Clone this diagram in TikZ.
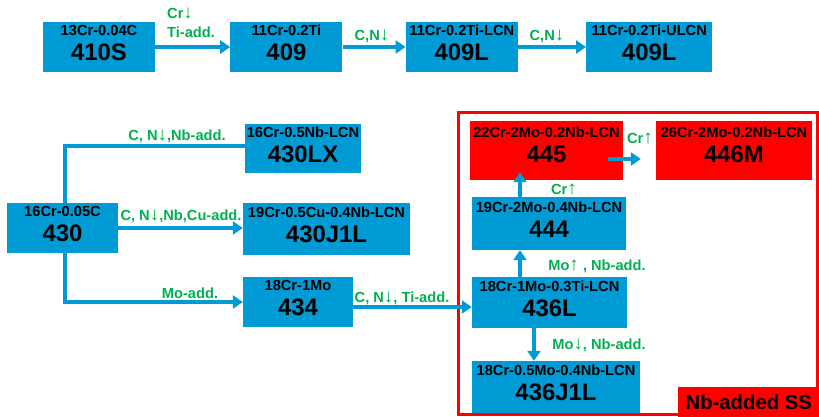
\documentclass[tikz,border=0pt]{standalone}
\usepackage{fontspec}
\setmainfont{Liberation Sans}
\usetikzlibrary{arrows.meta, positioning, calc}

\definecolor{steelblue}{RGB}{0,155,212}
\definecolor{addgreen}{RGB}{0,176,80}
\definecolor{nbred}{RGB}{255,0,0}

% composition on top, grade name below
\newcommand{\grade}[2]{{\fontsize{14.7}{15}\selectfont #1}\\#2}
% content going down / up
\newcommand{\less}{{\fontsize{19}{19}\selectfont ↓}}
\newcommand{\more}{{\fontsize{19}{19}\selectfont ↑}}

\begin{document}
\begin{tikzpicture}[
    x=1bp, y=-1bp,
    box/.style={rectangle, fill=steelblue, inner sep=0pt, minimum width=112bp, minimum height=50bp, align=center, text depth=8bp, font=\bfseries\fontsize{24}{25}\selectfont},
    nbbox/.style={box, fill=nbred},
    arrow/.style={-{Triangle[length=10bp, width=13bp]}, line width=3.5bp, draw=steelblue},
    link/.style={line width=3.5bp, draw=steelblue},
    change/.style={font=\bfseries\fontsize{14.7}{19}\selectfont, text=addgreen, inner sep=0pt, align=left},
    group/.style={draw=nbred, line width=3bp, inner sep=0pt}
]
\useasboundingbox (0,0) rectangle (819,416);

% ============ NB-ADDED GROUP ============
\node[group, minimum width=359bp, minimum height=302bp] (nbgroup) at (637.5,263) {};
\node[fill=nbred, inner sep=0pt, minimum width=142bp, minimum height=30bp, anchor=south east,
      font=\bfseries\fontsize{20.4}{22}\selectfont] (nblabel) at ([xshift=1.5bp, yshift=-2bp]nbgroup.south east) {Nb-added SS};

% ============ TOP ROW ============
\node[box] (n410S) at (99,47) {\grade{13Cr-0.04C}{410S}};
\node[box, right=75bp of n410S] (n409) {\grade{11Cr-0.2Ti}{409}};
\node[box, right=63bp of n409] (n409L) {\grade{11Cr-0.2Ti-LCN}{409L}};
\node[box, minimum width=126bp, right=68bp of n409L] (n409UL) {\grade{11Cr-0.2Ti-ULCN}{409L}};

% ============ 430 FAMILY ============
\node[box, minimum width=111bp] (n430) at (62.5,228) {\grade{16Cr-0.05C}{430}};
\node[box, minimum width=116bp, minimum height=49bp] (n430LX) at (303,148.5) {\grade{16Cr-0.5Nb-LCN}{430LX}};
\node[box, minimum width=167bp, minimum height=52bp] (n430J1L) at (326.5,229) {\grade{19Cr-0.5Cu-0.4Nb-LCN}{430J1L}};
\node[box, minimum width=110bp] (n434) at (298,302) {\grade{18Cr-1Mo}{434}};

% ============ NB-ADDED GRADES ============
\node[nbbox, minimum width=153bp, minimum height=59bp, text depth=12bp] (n445) at (546.5,150.5) {\grade{22Cr-2Mo-0.2Nb-LCN}{445}};
\node[nbbox, minimum width=156bp, minimum height=59bp, text depth=12bp] (n446M) at (734,150.5) {\grade{26Cr-2Mo-0.2Nb-LCN}{446M}};
\node[box, minimum width=154bp, minimum height=53bp] (n444) at (549,223.5) {\grade{19Cr-2Mo-0.4Nb-LCN}{444}};
\node[box, minimum width=155bp, minimum height=51bp] (n436L) at (549.5,302.5) {\grade{18Cr-1Mo-0.3Ti-LCN}{436L}};
\node[box, minimum width=168bp, minimum height=52bp] (n436J1L) at (556,387) {\grade{18Cr-0.5Mo-0.4Nb-LCN}{436J1L}};

% ============ ARROWS ============
\draw[arrow] (n410S) -- (n409);
\draw[arrow] (n409) -- (n409L);
\draw[arrow] (n409L) -- (n409UL);

\draw[link] ([xshift=2.5bp]n430.north) |- ([yshift=2.5bp]n430LX.west);
\draw[arrow] (n430.east) -- (n430.east -| n430J1L.west);
\draw[arrow] ([xshift=2.5bp]n430.south) |- (n434.west);
\draw[arrow] ([yshift=-5bp]n434.east) -- ([yshift=-5bp]n434.east -| n436L.west);

\coordinate (colA) at (520,0);
\coordinate (colB) at (534,0);
\draw[arrow] (colA |- n436L.north) -- (colA |- n444.south);
\draw[arrow] (colA |- n444.north) -- ([yshift=8bp]colA |- n445.south);
\draw[arrow] (colB |- n436L.south) -- (colB |- n436J1L.north);
\draw[arrow, shorten >=15bp] ([xshift=-15bp, yshift=-8.5bp]n445.east) -- ([yshift=-8.5bp]n446M.west);

% ============ CHANGE LABELS ============
\node[change, anchor=west] (cCrTi) at (167,23) {Cr\less\\Ti-add.};
\node[change] (cCN1) at (372,36) {C,N\less};
\node[change] (cCN2) at (547,36) {C,N\less};
\node[change] (cLX) at (177,136) {C, N\less,Nb-add.};
\node[change] (cJ1L) at (181,216) {C, N\less,Nb,Cu-add.};
\node[change] (cMo) at (190,293) {Mo-add.};
\node[change] (cTi) at (402,298) {C, N\less, Ti-add.};
\node[change] (cCr1) at (640,138) {Cr\more};
\node[change] (cCr2) at (564,189) {Cr\more};
\node[change] (cMoUp) at (597,266) {Mo\more\ , Nb-add.};
\node[change] (cMoDn) at (599,345) {Mo\less, Nb-add.};

\end{tikzpicture}
\end{document}
